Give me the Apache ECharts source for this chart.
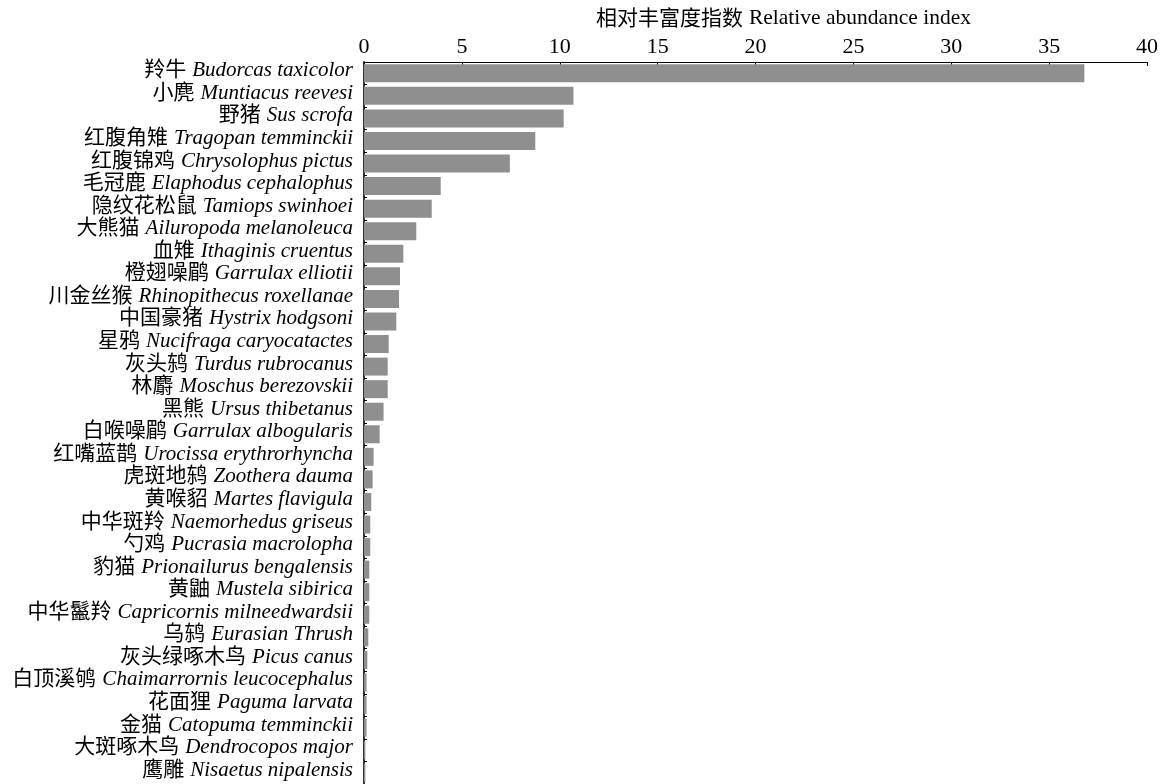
<!DOCTYPE html>
<html>
<head>
<meta charset="utf-8">
<script src="https://cdn.jsdelivr.net/npm/echarts@6/dist/echarts.min.js"></script>
<style>html,body{margin:0;padding:0;background:#fff}#c{width:1169px;height:784px}</style>
</head>
<body>
<div id="c"></div>
<script>
const cnNames = ["羚牛","小麂","野猪","红腹角雉","红腹锦鸡","毛冠鹿","隐纹花松鼠","大熊猫","血雉","橙翅噪鹛","川金丝猴","中国豪猪","星鸦","灰头鸫","林麝","黑熊","白喉噪鹛","红嘴蓝鹊","虎斑地鸫","黄喉貂","中华斑羚","勺鸡","豹猫","黄鼬","中华鬣羚","乌鸫","灰头绿啄木鸟","白顶溪鸲","花面狸","金猫","大斑啄木鸟","鹰雕"];
const latinNames = ["Budorcas taxicolor","Muntiacus reevesi","Sus scrofa","Tragopan temminckii","Chrysolophus pictus","Elaphodus cephalophus","Tamiops swinhoei","Ailuropoda melanoleuca","Ithaginis cruentus","Garrulax elliotii","Rhinopithecus roxellanae","Hystrix hodgsoni","Nucifraga caryocatactes","Turdus rubrocanus","Moschus berezovskii","Ursus thibetanus","Garrulax albogularis","Urocissa erythrorhyncha","Zoothera dauma","Martes flavigula","Naemorhedus griseus","Pucrasia macrolopha","Prionailurus bengalensis","Mustela sibirica","Capricornis milneedwardsii","Eurasian Thrush","Picus canus","Chaimarrornis leucocephalus","Paguma larvata","Catopuma temminckii","Dendrocopos major","Nisaetus nipalensis"];
const values = [36.8,10.7,10.2,8.75,7.45,3.92,3.46,2.67,2.01,1.84,1.79,1.65,1.26,1.21,1.21,1.0,0.8,0.49,0.44,0.37,0.32,0.32,0.27,0.27,0.27,0.22,0.17,0.13,0.13,0.13,0.07,0.07];
const xTicks = {min:0, max:40, interval:5};
const axisNameCn = "相对丰富度指数";
const axisNameEn = "Relative abundance index";

const categories = cnNames.map((c,i)=>c+"|"+latinNames[i]);
const chart = echarts.init(document.getElementById('c'), null, {renderer:'canvas'});
const serif = "'Liberation Serif','Times New Roman',serif";
const cjk = "'Noto Sans CJK SC'";
chart.setOption({
  animation:false,
  backgroundColor:'#fff',
  grid:{left:364, right:22, top:62, bottom:0, containLabel:false},
  xAxis:{
    type:'value', position:'top', min:xTicks.min, max:xTicks.max, interval:xTicks.interval,
    name:'{cn|'+axisNameCn+'}{la|'+axisNameEn+'}', nameLocation:'middle', nameGap:30,
    nameTextStyle:{
      padding:[0,0,0,56],
      rich:{
        cn:{fontFamily:cjk, fontSize:21, color:'#000', lineHeight:24, verticalAlign:'middle', padding:[0,6,4,0]},
        la:{fontFamily:serif, fontSize:21.5, color:'#000', lineHeight:24, verticalAlign:'middle'}
      }
    },
    axisLine:{show:true, lineStyle:{color:'#000', width:1}},
    axisTick:{show:true, inside:true, length:4, lineStyle:{color:'#000'}},
    axisLabel:{fontFamily:serif, fontSize:22, color:'#000', margin:4},
    splitLine:{show:false}
  },
  yAxis:{
    type:'category', inverse:true, data:categories,
    axisLine:{show:true, lineStyle:{color:'#333', width:2}},
    axisTick:{show:true, inside:true, length:3, lineStyle:{color:'#000'}},
    axisLabel:{
      margin:11, interval:0,
      padding:[0,0,5,0],
      formatter:function(v){const p=v.split('|');return '{cn|'+p[0]+'}{la|'+p[1]+'}';},
      rich:{
        cn:{fontFamily:cjk, fontSize:21, color:'#000', lineHeight:22, verticalAlign:'middle', padding:[0,6,5,0]},
        la:{fontFamily:serif, fontStyle:'italic', fontSize:21, color:'#000', lineHeight:22, verticalAlign:'middle'}
      }
    }
  },
  series:[{
    type:'bar', data:values, barWidth:18,
    itemStyle:{color:'#8f8f8f'},
    silent:true
  }]
});
</script>
</body>
</html>
